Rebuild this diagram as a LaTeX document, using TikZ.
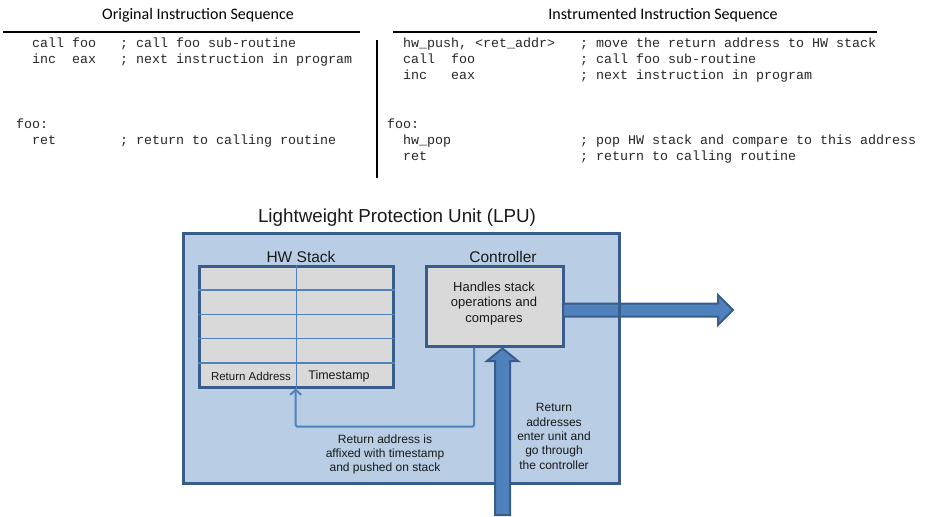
\documentclass[tikz,border=0pt]{standalone}
\usepackage{fontspec}
\setmainfont{Liberation Sans}
\setmonofont{Liberation Mono}
\newfontfamily\calib{Carlito}
\usetikzlibrary{arrows.meta}
\definecolor{lpufill}{HTML}{B9CDE5}
\definecolor{darkb}{HTML}{385D8A}
\definecolor{midb}{HTML}{4F81BD}
\definecolor{boxg}{HTML}{D9D9D9}
\begin{document}
\begin{tikzpicture}[x=1pt,y=-1pt,
  code/.style={font=\ttfamily\fontsize{13.33}{16}\selectfont, anchor=base west, inner sep=0pt, text=black!85},
  head/.style={font=\calib\fontsize{16}{19}\selectfont, inner sep=0pt},
  boxstyle/.style={draw=darkb, line width=3pt, fill=boxg, inner sep=0pt},
  gridline/.style={midb, line width=1.5pt},
  txt/.style={align=center, inner sep=0pt, text=black!90},
  bigarrow/.style={fill=midb, draw=darkb, line width=2pt, line join=miter},
  thin/.style={midb, line width=2pt, rounded corners=1.5pt}
]
\useasboundingbox (0,0) rectangle (927,517);

% --- headers
\node[head] (h1) at (198,15) {Original Instruction Sequence};
\node[head] (h2) at (663,15) {Instrumented Instruction Sequence};
\coordinate (r1a) at (3,32);   \coordinate (r1b) at (360,32);
\coordinate (r2a) at (393,32); \coordinate (r2b) at (877,32);
\coordinate (va) at (377,40);  \coordinate (vb) at (377,178);
\draw[line width=2pt] (r1a) -- (r1b);
\draw[line width=2pt] (r2a) -- (r2b);
\draw[line width=2pt] (va) -- (vb);

% --- original code
\node[code] (o1) at (32,47) {call foo};
\node[code] (o1c) at (120,47) {; call foo sub-routine};
\node[code] (o2) at (32,63) {inc\ \ eax};
\node[code] (o2c) at (120,63) {; next instruction in program};
\node[code] (o3) at (16,128) {foo:};
\node[code] (o4) at (32,144) {ret};
\node[code] (o4c) at (120,144) {; return to calling routine};

% --- instrumented code
\node[code] (i1) at (403,47) {hw\_push, <ret\_addr>};
\node[code] (i1c) at (580,47) {; move the return address to HW stack};
\node[code] (i2) at (403,63) {call\ \ foo};
\node[code] (i2c) at (580,63) {; call foo sub-routine};
\node[code] (i3) at (403,79) {inc\ \ \ eax};
\node[code] (i3c) at (580,79) {; next instruction in program};
\node[code] (i4) at (387,128) {foo:};
\node[code] (i5) at (403,144) {hw\_pop};
\node[code] (i5c) at (580,144) {; pop HW stack and compare to this address};
\node[code] (i6) at (403,160) {ret};
\node[code] (i6c) at (580,160) {; return to calling routine};

% --- LPU
\node[txt, font=\fontsize{18.8}{22}\selectfont] (lputitle) at (397,218) {Lightweight Protection Unit (LPU)};
\node[fill=lpufill, inner sep=0pt, minimum width=436pt, minimum height=249.5pt] (lpu) at (401.5,358.25) {};

% controller box
\node[boxstyle, minimum width=136.7pt, minimum height=80pt] (ctrl) at (494.7,306) {};
\node[txt, font=\fontsize{13}{15.5}\selectfont] (ctrltext) at (494,303.5) {Handles stack\\operations and\\compares};
\node[txt, font=\fontsize{15.5}{18}\selectfont] (ctrllabel) at (503,257) {Controller};

% right output arrow
\draw[bigarrow] (563,303.5) -- (718,303.5) -- (718,295) -- (733,310) -- (718,325) -- (718,316.5) -- (563,316.5) -- cycle;

% LPU border on top
\draw[darkb, line width=3pt] (lpu.north west) rectangle (lpu.south east);

% HW stack
\node[boxstyle, minimum width=194pt, minimum height=121pt] (stack) at (296.5,326.5) {};
\node[txt, font=\fontsize{15.5}{18}\selectfont] (stacklabel) at (301,257) {HW Stack};
\coordinate (sdiv) at (296.7,0);
\foreach \yy in {290,314.3,338.3,363} {
  \draw[gridline] (stack.west |- 0,\yy) -- (stack.east |- 0,\yy);
}
\draw[gridline] (stack.north -| sdiv) -- (stack.south -| sdiv);
\node[txt, font=\fontsize{11.5}{14}\selectfont] (retaddr) at (251,376) {Return Address};
\node[txt, font=\fontsize{12.5}{14}\selectfont] (tstamp) at (339,376) {Timestamp};

% thin connector controller -> stack
\coordinate (c1) at (474,426.7);
\coordinate (c2) at (295.7,426.7);
\draw[thin, -{Straight Barb[length=5pt,width=11pt]}] (ctrl.south -| c1) -- (c1) -- (c2) -- (stack.south -| c2);

% vertical input arrow
\draw[bigarrow] (495,515) -- (495,361) -- (487,361) -- (502.5,348.5) -- (518,361) -- (510,361) -- (510,515) -- cycle;

% texts
\node[txt, font=\fontsize{12}{14}\selectfont] (t1) at (385,454) {Return address is\\affixed with timestamp\\and pushed on stack};
\node[txt, font=\fontsize{12}{14.3}\selectfont] (t2) at (554,436.5) {Return\\addresses\\enter unit and\\go through\\the controller};
\end{tikzpicture}
\end{document}
